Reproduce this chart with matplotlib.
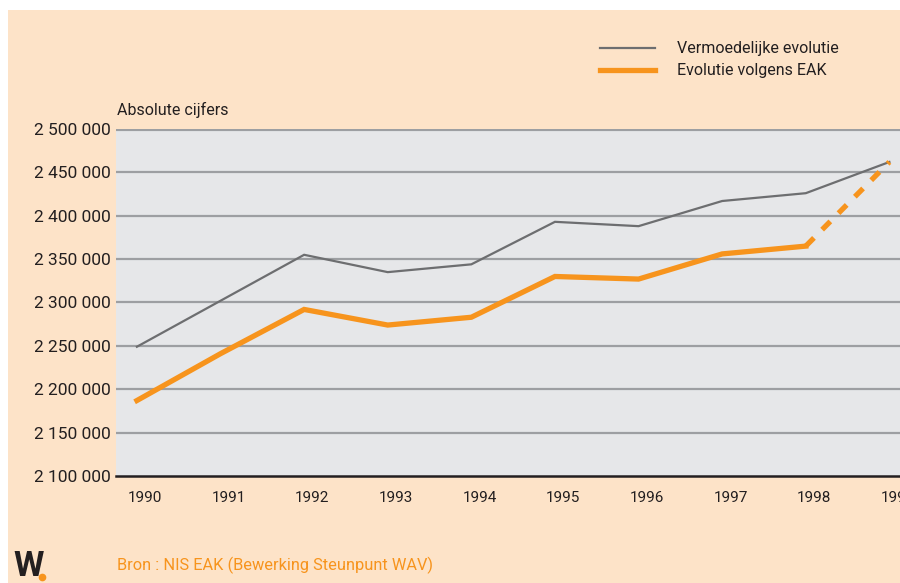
import matplotlib
matplotlib.use("Agg")
import matplotlib.pyplot as plt
from matplotlib.patches import Rectangle

years = [1990, 1991, 1992, 1993, 1994, 1995, 1996, 1997, 1998, 1999]
vermoedelijk = [2249000, 2302000, 2355000, 2335000, 2344000, 2393000, 2388000, 2417000, 2426000, 2462000]
eak = [2187000, 2241000, 2292000, 2274000, 2283000, 2330000, 2327000, 2356000, 2365000]
eak_dashed_years = [1998, 1999]
eak_dashed = [2365000, 2462000]
yticks = [2100000, 2150000, 2200000, 2250000, 2300000, 2350000, 2400000, 2450000, 2500000]

plt.rcParams['font.family'] = ['Roboto', 'DejaVu Sans']

W, H = 900, 583
fig = plt.figure(figsize=(9, 5.83), dpi=100, facecolor='white')
peach = '#fde3c8'
fig.patches.append(Rectangle((8 / W, 0), 1, 1 - 10 / H, transform=fig.transFigure,
                             facecolor=peach, edgecolor='none', zorder=-10))

ax = fig.add_axes([116 / W, (H - 476) / H, (900 - 116) / W, (476 - 129) / H])
ax.set_facecolor('#e6e7e9')
ax.set_xlim(1989.75, 1999.127)
ax.set_ylim(2100000, 2500000)

ax.set_yticks(yticks)
ax.set_yticklabels([f"{v:,}".replace(",", " ") for v in yticks], fontsize=12.5, color='#231f20')
label_shift = 0.1
ax.set_xticks([y + label_shift for y in years])
ax.set_xticklabels([str(y) for y in years], fontsize=11, color='#231f20')
ax.tick_params(axis='both', length=0)
ax.tick_params(axis='y', pad=4)
ax.tick_params(axis='x', pad=11)

for v in yticks[1:]:
    ax.axhline(v, color='#9d9fa2', lw=1.6, zorder=1)
ax.axhline(2500000, color='#9d9fa2', lw=3, zorder=1)

for s in ['top', 'right', 'left']:
    ax.spines[s].set_visible(False)
ax.spines['bottom'].set_color('#231f20')
ax.spines['bottom'].set_linewidth(1.8)

gray = '#6d6e70'
orange = '#f7941d'
ax.plot(years, vermoedelijk, color=gray, lw=1.6, zorder=3, solid_joinstyle='miter')
ax.plot(years[:len(eak)], eak, color=orange, lw=3.8, zorder=4, solid_joinstyle='miter')
ax.plot(eak_dashed_years, eak_dashed, color=orange, lw=3.8, zorder=4, linestyle=(0, (2.2, 2.2)))

# legend
fig.add_artist(plt.Line2D([600 / W, 655 / W], [1 - 48 / H] * 2, color=gray, lw=1.6))
fig.add_artist(plt.Line2D([600 / W, 655 / W], [1 - 70 / H] * 2, color=orange, lw=3.8))
fig.text(677 / W, 1 - 48 / H, "Vermoedelijke evolutie", fontsize=11.5, va='center', color='#231f20')
fig.text(677 / W, 1 - 70 / H, "Evolutie volgens EAK", fontsize=11.5, va='center', color='#231f20')
fig.text(117 / W, 1 - 110 / H, "Absolute cijfers", fontsize=11.5, va='center', color='#231f20')

fig.text(117 / W, 1 - 565 / H, "Bron : NIS EAK (Bewerking Steunpunt WAV)", fontsize=11.8,
         va='center', color=orange)
# logo
fig.text(13 / W, 1 - 567 / H, "W", fontsize=25, va='center', color='#231f20', fontweight='bold')
fig.add_artist(plt.Line2D([42 / W], [1 - 577 / H], marker='o', color=orange, markersize=4.5))

fig.savefig("out.png", dpi=100, facecolor='white')
